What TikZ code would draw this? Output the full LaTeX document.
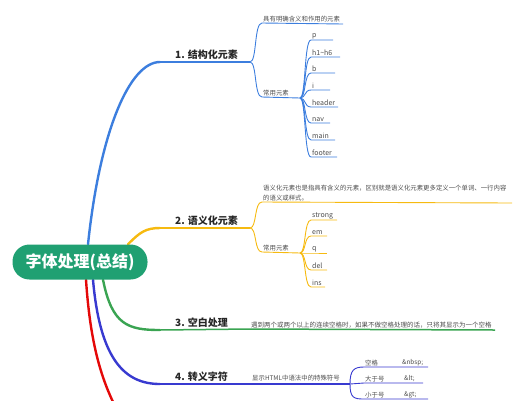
\documentclass[tikz,border=0pt]{standalone}
\usepackage{fontspec}
\newfontfamily\cjk{Noto Sans CJK SC}
\usetikzlibrary{positioning, calc, backgrounds}
\definecolor{rootgreen}{RGB}{32,160,114}
\definecolor{cA}{RGB}{60,126,222}
\definecolor{cB}{RGB}{246,186,16}
\definecolor{cC}{RGB}{58,164,82}
\definecolor{cD}{RGB}{56,58,208}
\definecolor{cE}{RGB}{228,8,8}

\begin{document}
\begin{tikzpicture}[
  x=1pt, y=-1pt, font=\cjk,
  root/.style={fill=rootgreen, text=white, rounded corners=17pt,
               minimum width=135pt, minimum height=35pt, inner sep=0pt,
               font=\cjk\fontsize{16}{18}\selectfont\bfseries},
  topic/.style={anchor=south west, inner sep=1pt, text=black!85,
                font=\cjk\fontsize{10}{12}\selectfont\bfseries},
  note/.style={anchor=south west, inner sep=1pt, text=black!70,
               font=\cjk\fontsize{6.4}{10}\selectfont},
  item/.style={anchor=south west, inner sep=1pt, text=black!70,
               font=\cjk\fontsize{7}{8}\selectfont},
  trunk/.style={line width=2.4pt, line cap=round},
  bar/.style={line width=1.5pt},
  twig/.style={line width=0.9pt}
]
  \useasboundingbox (0,0) rectangle (524,400);

  %--- root ---
  \node[root] (root) at (80,262) {字体处理(总结)};

  %--- 1. structure elements ---
  \coordinate (k1) at (160,62);
  \coordinate (j1) at (250,62);
  \coordinate (f1) at (300,98);
  \node[topic] (t1) at (174,61) {1. 结构化元素};
  \node[note] (n1) at (262,23) {具有明确含义和作用的元素};
  \node[note] (u1) at (262,97) {常用元素};
  \begin{scope}[on background layer]
    \draw[trunk, cA] ([xshift=8]root.north) .. controls (100,130) and (130,62) .. (k1);
  \end{scope}
  \draw[bar, cA] (k1) -- (j1);
  \draw[twig, cA] (j1) .. controls +(7,0) and +(-8,0) .. (n1.south west) -- (343,24);
  \draw[twig, cA] (j1) .. controls +(7,0) and +(-8,0) .. (u1.south west) -- (f1);
  \foreach \i/\txt/\yy/\xe in {1/p/40/333, 2/{h1\textasciitilde h6}/57/340, 3/b/73/335,
      4/i/90/330, 5/header/107/338, 6/nav/123/330, 7/main/140/335, 8/footer/157/337}
  {
    \node[item] (a\i) at (311,\yy) {\txt};
    \draw[twig, cA] (f1) .. controls +(6,0) and +(-7,0) .. (a\i.south west) -- (\xe,\yy);
  }

  %--- 2. semantic elements ---
  \coordinate (k2) at (160,228);
  \coordinate (j2) at (250,228);
  \coordinate (f2) at (300,253);
  \node[topic] (t2) at (174,227) {2. 语义化元素};
  \node[note, align=left] (n2) at (262,202)
    {语义化元素也是指具有含义的元素，区别就是语义化元素更多定义一个单词、一行内容\\的语义或样式。};
  \node[note] (u2) at (262,252) {常用元素};
  \begin{scope}[on background layer]
    \draw[trunk, cB] ([xshift=48]root.north) .. controls (140,232) and (146,228) .. (k2);
  \end{scope}
  \draw[bar, cB] (k2) -- (j2);
  \draw[twig, cB] (j2) .. controls +(7,0) and +(-8,0) .. (n2.south west) -- (512,203);
  \draw[twig, cB] (j2) .. controls +(7,0) and +(-8,0) .. (u2.south west) -- (f2);
  \foreach \i/\txt/\yy/\xe in {1/strong/220/337, 2/em/236/327, 3/q/253/327,
      4/del/270/327, 5/ins/287/325}
  {
    \node[item] (b\i) at (311,\yy) {\txt};
    \draw[twig, cB] (f2) .. controls +(6,0) and +(-7,0) .. (b\i.south west) -- (\xe,\yy);
  }

  %--- 3. white space ---
  \coordinate (k3) at (160,330);
  \coordinate (e3) at (495,330);
  \node[topic] (t3) at (174,329) {3. 空白处理};
  \node[note, font=\cjk\fontsize{6.5}{8}\selectfont] (n3) at (250,329)
    {遇到两个或两个以上的连续空格时，如果不做空格处理的话，只将其显示为一个空格};
  \begin{scope}[on background layer]
    \draw[trunk, cC] ([xshift=23]root.south) .. controls (112,325) and (128,330) .. (k3);
  \end{scope}
  \draw[bar, cC] (k3) -- (n3.south west) -- (e3);

  %--- 4. escape characters ---
  \coordinate (k4) at (160,384);
  \coordinate (j4) at (350,384);
  \node[topic] (t4) at (174,383) {4. 转义字符};
  \node[note] (n4) at (251,382) {显示HTML中语法中的特殊符号};
  \begin{scope}[on background layer]
    \draw[trunk, cD] ([xshift=13]root.south) .. controls (100,360) and (125,384) .. (k4);
  \end{scope}
  \draw[bar, cD] (k4) -- (j4);
  \node[note] (s1) at (364,367) {空格};
  \node[note] (s2) at (364,383) {大于号};
  \node[note] (s3) at (364,399) {小于号};
  \node[note] (v1) at (401,367) {\&nbsp;};
  \node[note] (v2) at (403,383) {\&lt;};
  \node[note] (v3) at (403,399) {\&gt;};
  \draw[twig, cD] (j4) .. controls +(0,-14) and +(-10,0) .. (s1.south west) -- (428,367);
  \draw[twig, cD] (j4) -- (s2.south west) -- (423,383);
  \draw[twig, cD] (j4) .. controls +(0,14) and +(-10,0) .. (s3.south west) -- (428,399);

  %--- 5. (continues below) ---
  \coordinate (k5) at (114,404);
  \begin{scope}[on background layer]
    \draw[trunk, cE] ([xshift=6]root.south) .. controls (90,340) and (100,375) .. (k5);
  \end{scope}
\end{tikzpicture}
\end{document}
